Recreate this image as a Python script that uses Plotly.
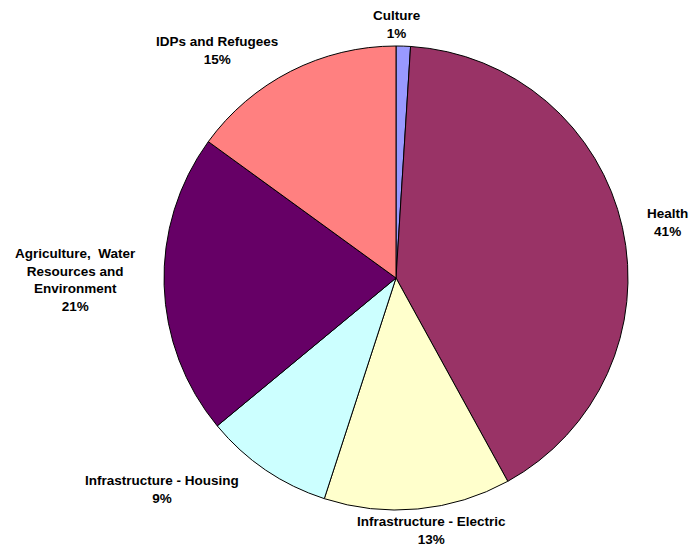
import plotly.graph_objects as go

# Share of funding by sector (percent)
sectors = [
    "Culture",
    "Health",
    "Infrastructure - Electric",
    "Infrastructure - Housing",
    "Agriculture,  Water<br>Resources and<br>Environment",
    "IDPs and Refugees",
]
shares = [1, 41, 13, 9, 21, 15]
slice_colors = ["#9999FF", "#993366", "#FFFFCC", "#CCFFFF", "#660066", "#FF8080"]

# Label block centres, in pixels from the top-left of the canvas
label_px = [(397, 25), (667, 222), (432, 530), (162, 489), (75, 280), (217, 50)]

W, H = 691, 546
CX, CY, R = 396, 278, 232

fig = go.Figure(
    go.Pie(
        labels=sectors,
        values=shares,
        sort=False,
        direction="clockwise",
        rotation=0,
        marker=dict(colors=slice_colors, line=dict(color="#000000", width=1)),
        textinfo="none",
        hoverinfo="label+percent",
        showlegend=False,
        domain=dict(x=[(CX - R) / W, (CX + R) / W],
                    y=[1 - (CY + R) / H, 1 - (CY - R) / H]),
    )
)

total = sum(shares)
for name, val, (px, py) in zip(sectors, shares, label_px):
    fig.add_annotation(
        x=px / W, y=1 - py / H, xref="paper", yref="paper",
        text=f"{name}<br>{round(100 * val / total)}%",
        showarrow=False, xanchor="center", yanchor="middle", align="center",
        font=dict(family="Liberation Sans, Arial, sans-serif", size=13.5,
                  color="#000000", weight="bold"),
    )

fig.update_layout(
    width=W,
    height=H,
    margin=dict(l=0, r=0, t=0, b=0),
    paper_bgcolor="#FFFFFF",
    plot_bgcolor="#FFFFFF",
    showlegend=False,
)

fig.write_html("out.html")
